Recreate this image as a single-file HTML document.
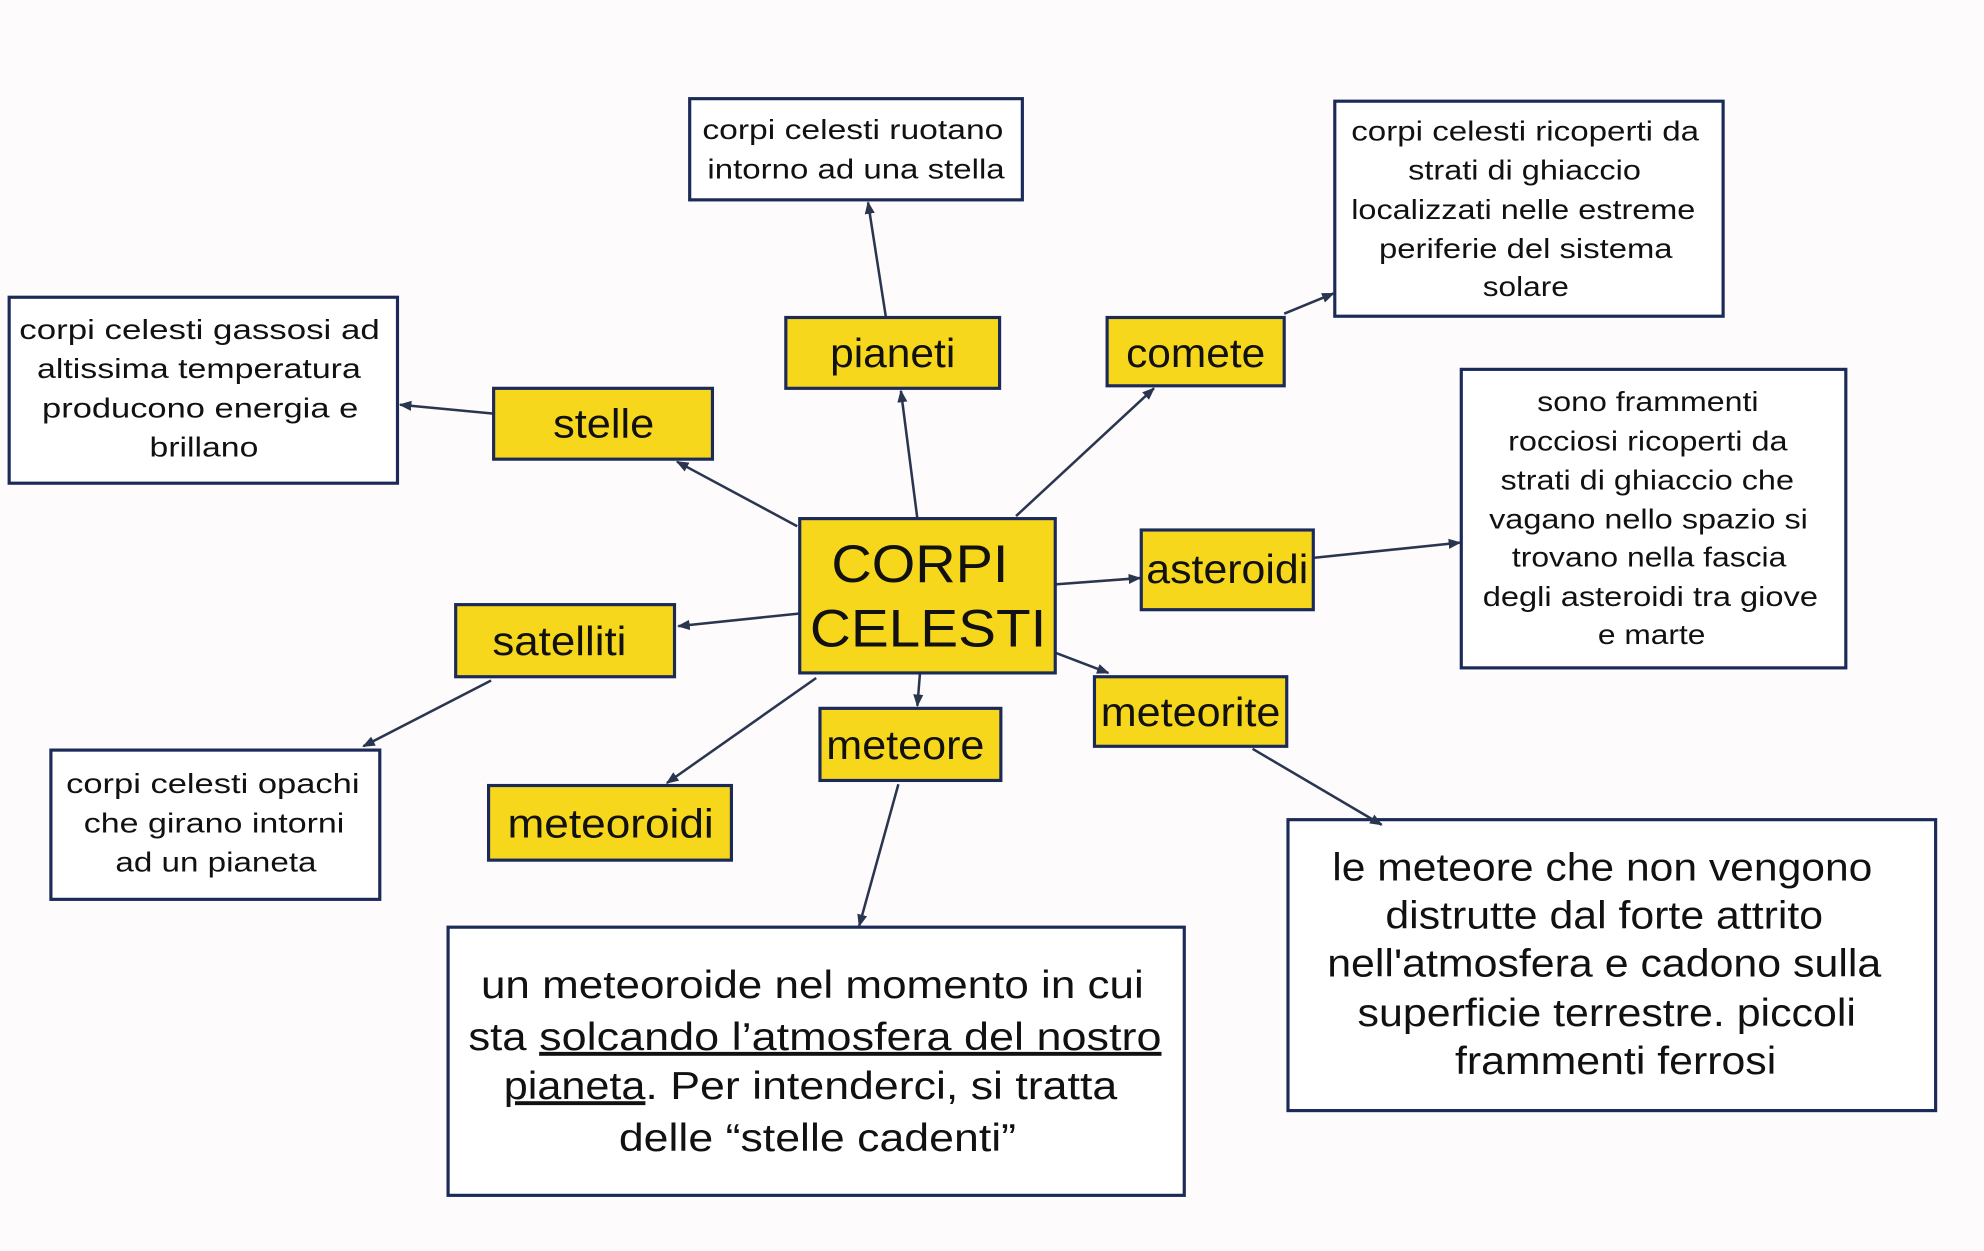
<!DOCTYPE html>
<html><head><meta charset="utf-8"><style>
html,body{margin:0;padding:0;background:#fdfbfb;}
svg{display:block}
text{font-family:"Liberation Sans",sans-serif;fill:#111}
.y{fill:#f6d71c;stroke:#1c2a5a;stroke-width:2.5}
.w{fill:#fff;stroke:#1c2a5a;stroke-width:2.5}
.a{stroke:#2a3550;stroke-width:2;fill:none;marker-end:url(#ar)}
.s{font-size:22px}
.b{font-size:31px}
.m{font-size:32px}
</style></head><body>
<svg width="1984" height="1251" viewBox="0 0 1568 989" xmlns="http://www.w3.org/2000/svg">
<defs><marker id="ar" markerWidth="10" markerHeight="10" refX="9" refY="5" orient="auto" markerUnits="userSpaceOnUse"><path d="M0,1 L10,5 L0,9 z" fill="#2a3550"/></marker></defs>
<rect width="1568" height="989" fill="#fdfbfb"/>
<rect class="w" x="545" y="78" width="263" height="80"/>
<text class="s" x="555" y="110" textLength="238" lengthAdjust="spacingAndGlyphs">corpi celesti ruotano</text>
<text class="s" x="559" y="141" textLength="235" lengthAdjust="spacingAndGlyphs">intorno ad una stella</text>
<rect class="w" x="1055" y="80" width="307" height="170"/>
<text class="s" x="1068" y="111" textLength="275" lengthAdjust="spacingAndGlyphs">corpi celesti ricoperti da</text>
<text class="s" x="1113" y="142" textLength="184" lengthAdjust="spacingAndGlyphs">strati di ghiaccio</text>
<text class="s" x="1068" y="173" textLength="272" lengthAdjust="spacingAndGlyphs">localizzati nelle estreme</text>
<text class="s" x="1090" y="204" textLength="232" lengthAdjust="spacingAndGlyphs">periferie del sistema</text>
<text class="s" x="1172" y="234" textLength="68" lengthAdjust="spacingAndGlyphs">solare</text>
<rect class="w" x="7" y="235" width="307" height="147"/>
<text class="s" x="15" y="268" textLength="285" lengthAdjust="spacingAndGlyphs">corpi celesti gassosi ad</text>
<text class="s" x="29" y="299" textLength="256" lengthAdjust="spacingAndGlyphs">altissima temperatura</text>
<text class="s" x="33" y="330" textLength="250" lengthAdjust="spacingAndGlyphs">producono energia e</text>
<text class="s" x="118" y="361" textLength="86" lengthAdjust="spacingAndGlyphs">brillano</text>
<rect class="w" x="1155" y="292" width="304" height="236"/>
<text class="s" x="1215" y="325" textLength="175" lengthAdjust="spacingAndGlyphs">sono frammenti</text>
<text class="s" x="1192" y="356" textLength="221" lengthAdjust="spacingAndGlyphs">rocciosi ricoperti da</text>
<text class="s" x="1186" y="387" textLength="232" lengthAdjust="spacingAndGlyphs">strati di ghiaccio che</text>
<text class="s" x="1177" y="418" textLength="252" lengthAdjust="spacingAndGlyphs">vagano nello spazio si</text>
<text class="s" x="1195" y="448" textLength="217" lengthAdjust="spacingAndGlyphs">trovano nella fascia</text>
<text class="s" x="1172" y="479" textLength="265" lengthAdjust="spacingAndGlyphs">degli asteroidi tra giove</text>
<text class="s" x="1263" y="509" textLength="85" lengthAdjust="spacingAndGlyphs">e marte</text>
<rect class="w" x="40" y="593" width="260" height="118"/>
<text class="s" x="52" y="627" textLength="232" lengthAdjust="spacingAndGlyphs">corpi celesti opachi</text>
<text class="s" x="66" y="658" textLength="206" lengthAdjust="spacingAndGlyphs">che girano intorni</text>
<text class="s" x="91" y="689" textLength="159" lengthAdjust="spacingAndGlyphs">ad un pianeta</text>
<rect class="w" x="354" y="733" width="582" height="212"/>
<text class="b" x="380" y="789" textLength="524" lengthAdjust="spacingAndGlyphs">un meteoroide nel momento in cui</text>
<text class="b" x="370" y="830" textLength="46" lengthAdjust="spacingAndGlyphs">sta</text>
<text class="b" x="426" y="830" textLength="492" lengthAdjust="spacingAndGlyphs" text-decoration="underline">solcando l’atmosfera del nostro  </text>
<text class="b" x="398" y="869" textLength="112" lengthAdjust="spacingAndGlyphs" text-decoration="underline">pianeta</text>
<text class="b" x="510" y="869" textLength="373" lengthAdjust="spacingAndGlyphs">. Per intenderci, si tratta</text>
<text class="b" x="489" y="910" textLength="314" lengthAdjust="spacingAndGlyphs">delle “stelle cadenti”</text>
<rect class="w" x="1018" y="648" width="512" height="230"/>
<text class="b" x="1053" y="696" textLength="427" lengthAdjust="spacingAndGlyphs">le meteore che non vengono</text>
<text class="b" x="1095" y="734" textLength="346" lengthAdjust="spacingAndGlyphs">distrutte dal forte attrito</text>
<text class="b" x="1049" y="772" textLength="438" lengthAdjust="spacingAndGlyphs">nell'atmosfera e cadono sulla</text>
<text class="b" x="1073" y="811" textLength="394" lengthAdjust="spacingAndGlyphs">superficie terrestre. piccoli</text>
<text class="b" x="1150" y="849" textLength="254" lengthAdjust="spacingAndGlyphs">frammenti ferrosi</text>
<path class="a" d="M725,410 L712,309"/>
<path class="a" d="M700,250 L686,160"/>
<path class="a" d="M803,408 L912,307"/>
<path class="a" d="M1015,248 L1054,232"/>
<path class="a" d="M630,416 L535,365"/>
<path class="a" d="M390,327 L316,320"/>
<path class="a" d="M834,462 L901,457"/>
<path class="a" d="M1038,441 L1154,429"/>
<path class="a" d="M632,485 L536,495"/>
<path class="a" d="M388,538 L287,590"/>
<path class="a" d="M834,516 L876,532"/>
<path class="a" d="M990,592 L1092,652"/>
<path class="a" d="M727,533 L725,558"/>
<path class="a" d="M645,536 L527,619"/>
<path class="a" d="M710,620 L679,732"/>
<rect class="y" x="621" y="251" width="169" height="56"/><text class="m" x="656" y="290" textLength="99" lengthAdjust="spacingAndGlyphs">pianeti</text>
<rect class="y" x="875" y="251" width="140" height="54"/><text class="m" x="890" y="290" textLength="110" lengthAdjust="spacingAndGlyphs">comete</text>
<rect class="y" x="390" y="307" width="173" height="56"/><text class="m" x="437" y="346" textLength="80" lengthAdjust="spacingAndGlyphs">stelle</text>
<rect class="y" x="632" y="410" width="202" height="122"/>
<text x="657" y="460" font-size="42" textLength="140" lengthAdjust="spacingAndGlyphs">CORPI</text>
<text x="640" y="511" font-size="42" textLength="187" lengthAdjust="spacingAndGlyphs">CELESTI</text>
<rect class="y" x="902" y="419" width="136" height="63"/><text class="m" x="906" y="461" textLength="128" lengthAdjust="spacingAndGlyphs">asteroidi</text>
<rect class="y" x="360" y="478" width="173" height="57"/><text class="m" x="389" y="518" textLength="106" lengthAdjust="spacingAndGlyphs">satelliti</text>
<rect class="y" x="865" y="535" width="152" height="55"/><text class="m" x="870" y="574" textLength="142" lengthAdjust="spacingAndGlyphs">meteorite</text>
<rect class="y" x="648" y="560" width="143" height="57"/><text class="m" x="653" y="600" textLength="125" lengthAdjust="spacingAndGlyphs">meteore</text>
<rect class="y" x="386" y="621" width="192" height="59"/><text class="m" x="401" y="662" textLength="163" lengthAdjust="spacingAndGlyphs">meteoroidi</text>
</svg>
</body></html>
